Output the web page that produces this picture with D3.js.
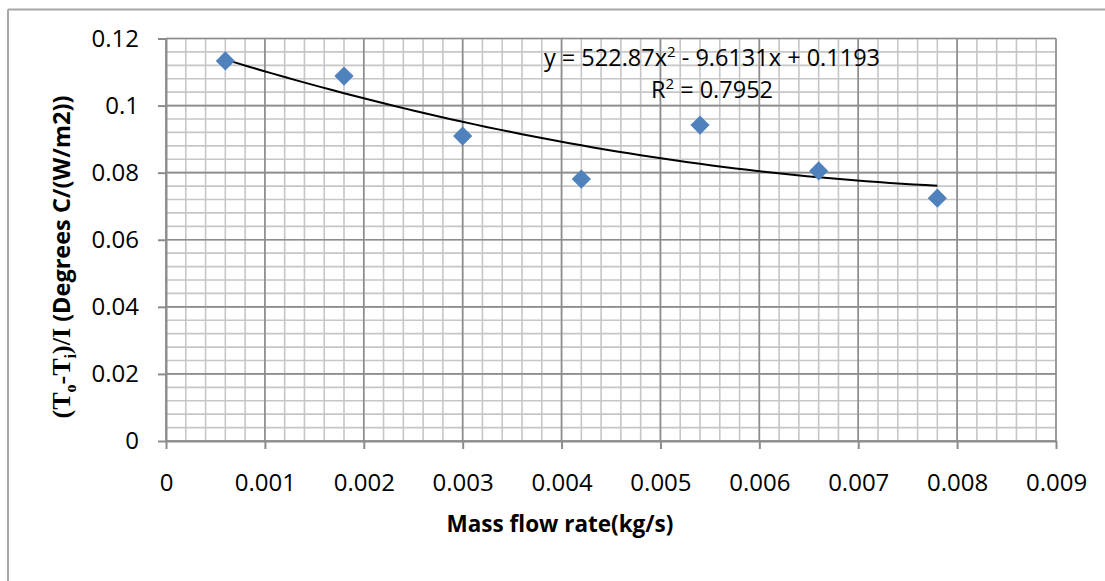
<!DOCTYPE html>
<html lang="en">
<head>
  <meta charset="UTF-8">
  <title>Mass flow rate scatter</title>
  <script src="https://d3js.org/d3.v7.min.js"></script>
  <style>
    body { margin: 0; background: #fff; }
    svg { display: block; }
    .tick text { font-family: "Open Sans", sans-serif; font-size: 24px; fill: #000; }
  </style>
</head>
<body>
<div class="main"></div>
<script>
  // data
  const massFlow = [0.0006, 0.0018, 0.003, 0.0042, 0.0054, 0.0066, 0.0078];
  const tempRatio = [0.1133, 0.1088, 0.0909, 0.0781, 0.0942, 0.0805, 0.0724];
  const xTicks = [0, 0.001, 0.002, 0.003, 0.004, 0.005, 0.006, 0.007, 0.008, 0.009];
  const yTicks = [0, 0.02, 0.04, 0.06, 0.08, 0.1, 0.12];
  // polynomial trendline as printed on the chart: a*x^2 + b*x + c
  const trendCoef = [522.87, -9.6131, 0.1193];
  const trendText = ["y = 522.87x", "2", " - 9.6131x + 0.1193"];
  const r2Text = ["R", "2", " = 0.7952"];

  let width = 1105;
  let height = 581;
  let svg = d3.select(".main").append("svg").attr("width", width).attr("height", height);

  let x = d3.scaleLinear().domain([0, 0.009]).range([166, 1056]);
  let y = d3.scaleLinear().domain([0, 0.12]).range([441, 38.5]);

  // outer chart frame (only left and top edges show)
  svg.append("line").attr("x1", 8).attr("y1", 9.5).attr("x2", 8).attr("y2", height).style("stroke", "#a6a6a6").style("stroke-width", 2);
  svg.append("line").attr("x1", 8).attr("y1", 9.5).attr("x2", width).attr("y2", 9.5).style("stroke", "#a6a6a6").style("stroke-width", 2);

  // minor grid
  let minorX = d3.range(0, 46).map(i => i * 0.0002);
  let minorY = d3.range(0, 31).map(i => i * 0.004);
  svg.append("g").selectAll("line").data(minorX).join("line")
    .attr("x1", d => x(d)).attr("x2", d => x(d)).attr("y1", y(0)).attr("y2", y(0.12))
    .style("stroke", "#c6c6c6").style("stroke-width", 1.6);
  svg.append("g").selectAll("line").data(minorY).join("line")
    .attr("y1", d => y(d)).attr("y2", d => y(d)).attr("x1", x(0)).attr("x2", x(0.009))
    .style("stroke", "#c6c6c6").style("stroke-width", 1.6);

  // major grid
  svg.append("g").selectAll("line").data(xTicks).join("line")
    .attr("x1", d => x(d)).attr("x2", d => x(d)).attr("y1", y(0)).attr("y2", y(0.12))
    .style("stroke", "#8c8c8c").style("stroke-width", 1.6);
  svg.append("g").selectAll("line").data(yTicks).join("line")
    .attr("y1", d => y(d)).attr("y2", d => y(d)).attr("x1", x(0)).attr("x2", x(0.009))
    .style("stroke", "#8c8c8c").style("stroke-width", 1.6);

  // axes
  let xAxis = svg.append("g").attr("transform", "translate(0," + y(0) + ")")
    .call(d3.axisBottom(x).tickValues(xTicks).tickFormat(d => String(d)).tickSize(8).tickSizeOuter(0).tickPadding(25));
  let yAxis = svg.append("g").attr("transform", "translate(" + x(0) + ",0)")
    .call(d3.axisLeft(y).tickValues(yTicks).tickFormat(d => String(d)).tickSize(8).tickSizeOuter(0).tickPadding(19));
  [xAxis, yAxis].forEach(a => {
    a.select(".domain").style("stroke", "#8c8c8c").style("stroke-width", 2);
    a.selectAll(".tick line").style("stroke", "#8c8c8c").style("stroke-width", 2);
  });

  // trendline
  let fit = v => trendCoef[0] * v * v + trendCoef[1] * v + trendCoef[2];
  let x0 = d3.min(massFlow), x1 = d3.max(massFlow);
  let curve = d3.range(0, 61).map(i => x0 + (x1 - x0) * i / 60);
  svg.append("path").datum(curve)
    .attr("d", d3.line().x(d => x(d)).y(d => y(fit(d))))
    .style("fill", "none").style("stroke", "#000").style("stroke-width", 2);

  // markers
  let diamond = d3.symbol().type(d3.symbolSquare).size(185);
  svg.append("g").selectAll("path").data(massFlow).join("path")
    .attr("d", diamond)
    .attr("transform", (d, i) => "translate(" + x(d) + "," + y(tempRatio[i]) + ") rotate(45)")
    .style("fill", "#4f81bd");

  // trendline label
  let eq = svg.append("text").attr("x", 712).attr("y", 66).attr("text-anchor", "middle")
    .style("font-family", "Open Sans, sans-serif").style("font-size", "23.5px");
  eq.append("tspan").text(trendText[0]);
  eq.append("tspan").attr("dy", -9).style("font-size", "15px").text(trendText[1]);
  eq.append("tspan").attr("dy", 9).text(trendText[2]);
  let r2 = svg.append("text").attr("x", 712).attr("y", 98).attr("text-anchor", "middle")
    .style("font-family", "Open Sans, sans-serif").style("font-size", "23.5px");
  r2.append("tspan").text(r2Text[0]);
  r2.append("tspan").attr("dy", -9).style("font-size", "15px").text(r2Text[1]);
  r2.append("tspan").attr("dy", 9).text(r2Text[2]);

  // x-axis title
  svg.append("text").attr("x", 560).attr("y", 532).attr("text-anchor", "middle")
    .style("font-family", "Open Sans, sans-serif").style("font-size", "22.5px").style("font-weight", "bold")
    .text("Mass flow rate(kg/s)");

  // y-axis title
  let yt = svg.append("text").attr("transform", "translate(70,257) rotate(-90)").attr("text-anchor", "middle")
    .style("font-weight", "bold").style("font-size", "23.5px");
  let serif = "Liberation Serif, Times New Roman, serif";
  yt.append("tspan").style("font-family", serif).style("font-size", "26px").text("(T");
  yt.append("tspan").style("font-family", serif).style("font-size", "16px").attr("dy", 6).text("o");
  yt.append("tspan").style("font-family", serif).style("font-size", "26px").attr("dy", -6).text("-T");
  yt.append("tspan").style("font-family", serif).style("font-size", "16px").attr("dy", 6).text("i");
  yt.append("tspan").style("font-family", serif).style("font-size", "26px").attr("dy", -6).text(")/I");
  yt.append("tspan").style("font-family", "Open Sans, sans-serif").text(" (Degrees C/(W/m2))");
</script>
</body>
</html>
